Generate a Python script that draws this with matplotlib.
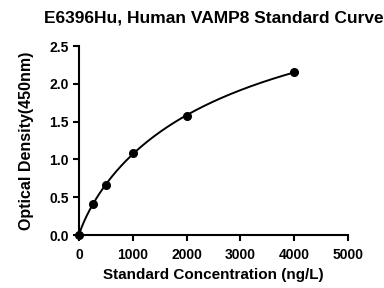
import matplotlib
matplotlib.use("Agg")
import matplotlib.pyplot as plt
import numpy as np

plt.rcParams["font.family"] = ["Liberation Sans", "DejaVu Sans"]
plt.rcParams["font.weight"] = "bold"

# standard points
CONC = np.array([0, 250, 500, 1000, 2000, 4000], dtype=float)   # ng/L
OD = np.array([0.0, 0.406, 0.657, 1.089, 1.578, 2.152])          # 450nm

TITLE = "E6396Hu, Human VAMP8 Standard Curve"
XLABEL = "Standard Concentration (ng/L)"
YLABEL = "Optical Density(450nm)"


def fit_curve(x, y):
    # simple 4PL with bottom fixed at 0: grid over slope/ec50, top by least squares
    best = None
    for b in np.linspace(0.5, 2.0, 151):
        for c in np.geomspace(300, 1e5, 400):
            g = (x / c) ** b / (1 + (x / c) ** b)
            d = np.dot(g, y) / np.dot(g, g)
            err = np.sum((d * g - y) ** 2)
            if best is None or err < best[0]:
                best = (err, b, c, d)
    _, b, c, d = best
    return lambda t: d * (t / c) ** b / (1 + (t / c) ** b)


def main():
    fig = plt.figure(figsize=(3.84, 2.88), dpi=100)
    ax = fig.add_axes([0.206, 0.184, 0.700, 0.656])

    f = fit_curve(CONC, OD)
    xs = np.linspace(0, CONC.max(), 400)
    ax.plot(xs, f(xs), color="black", lw=1.4)
    ax.plot(CONC, OD, "o", color="black", ms=5.5, clip_on=False, zorder=3)

    ax.set_xlim(0, 5000)
    ax.set_ylim(0, 2.5)
    ax.set_xticks(np.arange(0, 5001, 1000))
    ax.set_yticks(np.arange(0, 2.51, 0.5))
    ax.yaxis.set_major_formatter(plt.FormatStrFormatter("%.1f"))
    for s in ["top", "right"]:
        ax.spines[s].set_visible(False)
    for s in ["left", "bottom"]:
        ax.spines[s].set_linewidth(1.5)
    ax.tick_params(width=1.5, length=4.5, labelsize=10, pad=3)
    ax.tick_params(axis="x", pad=5)
    for lab in ax.get_xticklabels() + ax.get_yticklabels():
        lab.set_fontweight("bold")

    ax.set_xlabel(XLABEL, fontsize=11, fontweight="bold", labelpad=4)
    ax.set_ylabel(YLABEL, fontsize=11.5, fontweight="bold", labelpad=11)
    ax.set_title(TITLE, fontsize=12.5, fontweight="bold", pad=17)

    fig.savefig("out.png", dpi=100)
    plt.close(fig)


if __name__ == "__main__":
    main()
